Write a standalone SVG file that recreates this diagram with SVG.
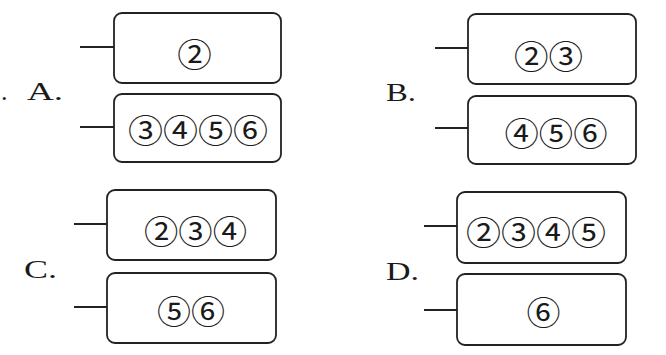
<svg xmlns="http://www.w3.org/2000/svg" width="666" height="355" viewBox="0 0 666 355">
<style>
.box{fill:#fff;stroke:#222;stroke-width:1.8}
.ln{stroke:#222;stroke-width:1.8;fill:none}
.num{font-family:"Noto Sans CJK SC","Noto Sans CJK JP",sans-serif;font-size:33px;fill:#1a1a1a;text-anchor:middle;dominant-baseline:central}
.lab{font-family:"Liberation Serif",serif;font-size:26px;fill:#1a1a1a}
</style>
<rect width="666" height="355" fill="#fff"/>
<g id="connectors">
<line class="ln" x1="80" y1="47" x2="114" y2="47"/>
<line class="ln" x1="80" y1="127" x2="114" y2="127"/>
<line class="ln" x1="435" y1="48" x2="468" y2="48"/>
<line class="ln" x1="435" y1="128" x2="468" y2="128"/>
<line class="ln" x1="74" y1="224" x2="107" y2="224"/>
<line class="ln" x1="74" y1="307" x2="107" y2="307"/>
<line class="ln" x1="424" y1="226" x2="457" y2="226"/>
<line class="ln" x1="424" y1="310" x2="457" y2="310"/>
</g>
<g id="labels">
<text class="lab" x="1" y="100">.</text>
<text class="lab" x="27" y="100" textLength="36" lengthAdjust="spacingAndGlyphs">A.</text>
<text class="lab" x="386" y="101" textLength="30" lengthAdjust="spacingAndGlyphs">B.</text>
<text class="lab" x="24" y="278" textLength="33" lengthAdjust="spacingAndGlyphs">C.</text>
<text class="lab" x="386" y="280" textLength="33" lengthAdjust="spacingAndGlyphs">D.</text>
</g>
<g id="A1"><rect class="box" x="114" y="13" width="167" height="70" rx="8"/><text class="num" x="194.5" y="53" textLength="34.5" lengthAdjust="spacingAndGlyphs">②</text></g>
<g id="A2"><rect class="box" x="114" y="94" width="167" height="68" rx="8"/><text class="num" x="198" y="128.5" textLength="140" lengthAdjust="spacingAndGlyphs">③④⑤⑥</text></g>
<g id="B1"><rect class="box" x="468" y="14" width="168" height="70" rx="8"/><text class="num" x="548.5" y="54.5" textLength="69" lengthAdjust="spacingAndGlyphs">②③</text></g>
<g id="B2"><rect class="box" x="468" y="96" width="168" height="68" rx="8"/><text class="num" x="556" y="131.5" textLength="103" lengthAdjust="spacingAndGlyphs">④⑤⑥</text></g>
<g id="C1"><rect class="box" x="107" y="190" width="169" height="70" rx="8"/><text class="num" x="195.5" y="229.5" textLength="103" lengthAdjust="spacingAndGlyphs">②③④</text></g>
<g id="C2"><rect class="box" x="107" y="273" width="169" height="70" rx="8"/><text class="num" x="191" y="309.5" textLength="68" lengthAdjust="spacingAndGlyphs">⑤⑥</text></g>
<g id="D1"><rect class="box" x="457" y="192" width="169" height="71" rx="8"/><text class="num" x="536" y="231" textLength="140" lengthAdjust="spacingAndGlyphs">②③④⑤</text></g>
<g id="D2"><rect class="box" x="457" y="274" width="169" height="71" rx="8"/><text class="num" x="543.5" y="310.5" textLength="34" lengthAdjust="spacingAndGlyphs">⑥</text></g>
</svg>
